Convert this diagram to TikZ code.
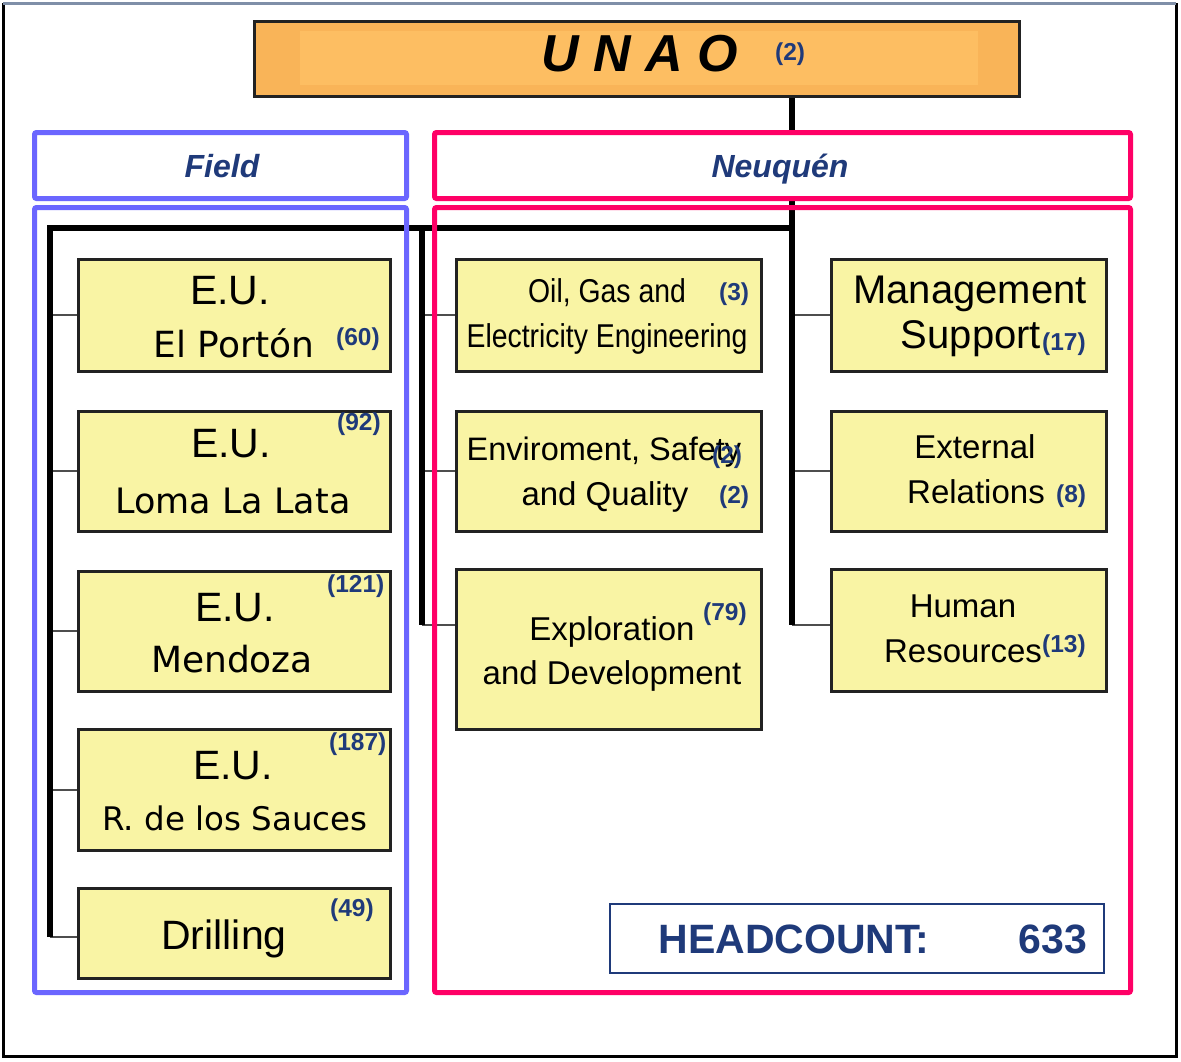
\documentclass[tikz,border=0pt]{standalone}
\usepackage{fontspec}
\setmainfont{Liberation Sans}
\newfontfamily\widefont{DejaVu Sans}
\newfontfamily\narrowfont[FakeStretch=0.86]{Liberation Sans}
\definecolor{numblue}{HTML}{1F3A7A}
\definecolor{boxfill}{HTML}{F9F4A4}
\definecolor{boxline}{HTML}{222222}
\definecolor{fieldblue}{HTML}{6B66FF}
\definecolor{neupink}{HTML}{FF0066}
\definecolor{unaofill}{HTML}{F9B458}
\definecolor{unaoinner}{HTML}{FDBE62}
\definecolor{topgray}{HTML}{7F8FA8}
\newcommand{\fs}[1]{\fontsize{#1}{#1}\selectfont}
\begin{document}
\begin{tikzpicture}[x=1pt,y=-1pt,
  ybox/.style={draw=boxline, line width=2.5pt, fill=boxfill, inner sep=0pt, anchor=north west},
  num/.style={font=\bfseries\fs{24.5}, text=numblue, inner sep=0pt, anchor=west},
  txt/.style={inner sep=0pt, anchor=base, text=black},
  trunk/.style={line width=6.5pt, black},
  conn/.style={line width=2pt, draw=boxline!80},
  bframe/.style={draw=fieldblue, line width=5pt, rounded corners=2pt, inner sep=0pt, anchor=north west},
  pframe/.style={draw=neupink, line width=5pt, rounded corners=2pt, inner sep=0pt, anchor=north west},
  head/.style={txt, font=\bfseries\itshape\fs{32}, text=numblue}
]
\useasboundingbox (0,0) rectangle (1181,1061);
\fill[white] (0,0) rectangle (1181,1061);
% outer frame
\draw[line width=3pt, black] (3,3) -- (3,1056) -- (1176,1056) -- (1176,3);
\draw[line width=3pt, topgray] (3,3) -- (1176,3);

% UNAO
\node[draw=boxline, line width=3pt, fill=unaofill, minimum width=765pt, minimum height=75pt, inner sep=0pt, anchor=north west] (unao) at (253,20) {};
\fill[unaoinner] (300,31) rectangle (978,85);
\node[txt, font=\bfseries\itshape\fs{52}] (unaot) at (640,71) {U N A O};
\node[num] (unaon) at (775,54) {(2)};

% boxes left
\node[ybox, minimum width=312pt, minimum height=112pt] (b1) at (77,258) {};
\node[ybox, minimum width=312pt, minimum height=120pt] (b2) at (77,410) {};
\node[ybox, minimum width=312pt, minimum height=120pt] (b3) at (77,570) {};
\node[ybox, minimum width=312pt, minimum height=121pt] (b4) at (77,728) {};
\node[ybox, minimum width=312pt, minimum height=90pt] (b5) at (77,887) {};
% boxes middle
\node[ybox, minimum width=305pt, minimum height=112pt] (b6) at (455,258) {};
\node[ybox, minimum width=305pt, minimum height=120pt] (b7) at (455,410) {};
\node[ybox, minimum width=305pt, minimum height=160pt] (b8) at (455,568) {};
% boxes right
\node[ybox, minimum width=275pt, minimum height=112pt] (b9) at (830,258) {};
\node[ybox, minimum width=275pt, minimum height=120pt] (b10) at (830,410) {};
\node[ybox, minimum width=275pt, minimum height=122pt] (b11) at (830,568) {};

% trunk coordinates
\coordinate (lt) at (50,228);
\coordinate (lb) at (50,937);
\coordinate (mt) at (422,228);
\coordinate (mb) at (422,625);
\coordinate (rt) at (792,228);
\coordinate (rb) at (792,625);

% connectors
\draw[conn] (b1.west -| lt) -- (b1.west);
\draw[conn] (b2.west -| lt) -- (b2.west);
\draw[conn] (b3.west -| lt) -- (b3.west);
\draw[conn] (b4.west -| lt) -- (b4.west);
\draw[conn] (lb) -- (lb -| b5.west);
\draw[conn] (b6.west -| mt) -- (b6.west);
\draw[conn] (b7.west -| mt) -- (b7.west);
\draw[conn] (mb) -- (mb -| b8.west);
\draw[conn] (b9.west -| rt) -- (b9.west);
\draw[conn] (b10.west -| rt) -- (b10.west);
\draw[conn] (rb) -- (rb -| b11.west);

% trunks
\draw[trunk] (lb) -- (lt) -- (rt);
\draw[trunk] (unao.south -| rt) -- (rb);
\draw[trunk] (mt) -- (mb);

% frames
\node[bframe, fill=white, minimum width=372pt, minimum height=66pt] (fieldh) at (32,130) {};
\node[bframe, minimum width=372pt, minimum height=785pt] (fieldb) at (32,205) {};
\node[pframe, fill=white, minimum width=696pt, minimum height=66pt] (neuh) at (432,130) {};
\node[pframe, minimum width=696pt, minimum height=785pt] (neub) at (432,205) {};
\node[head] (fieldt) at (222,177) {Field};
\node[head] (neut) at (780,177) {Neuquén};

% left texts
\node[txt, font=\fs{41}] (t1a) at (230,304) {E.U.};
\node[txt, font=\widefont\fs{36}] (t1b) at (234,357) {El Portón};
\node[num] (n1) at (336,339) {(60)};
\node[txt, font=\fs{41}] (t2a) at (231,457) {E.U.};
\node[txt, font=\widefont\fs{35}] (t2b) at (233,513) {Loma La Lata};
\node[num] (n2) at (337,424) {(92)};
\node[txt, font=\fs{41}] (t3a) at (235,621) {E.U.};
\node[txt, font=\widefont\fs{36}] (t3b) at (232,672) {Mendoza};
\node[num] (n3) at (327,586) {(121)};
\node[txt, font=\fs{41}] (t4a) at (233,779) {E.U.};
\node[txt, font=\widefont\fs{32.5}] (t4b) at (235,830) {R. de los Sauces};
\node[num] (n4) at (329,744) {(187)};
\node[txt, font=\fs{41}] (t5a) at (224,949) {Drilling};
\node[num] (n5) at (330,910) {(49)};

% middle texts
\node[txt, font=\narrowfont\fs{33}] (t6a) at (607,302) {Oil, Gas and};
\node[txt, font=\narrowfont\fs{33}] (t6b) at (607,347) {Electricity Engineering};
\node[num] (n6) at (719,294) {(3)};
\node[txt, font=\fs{32.5}] (t7a) at (604,460) {Enviroment, Safety};
\node[txt, font=\fs{33}] (t7b) at (605,505) {and Quality};
\node[num] (n7a) at (712,457) {(2)};
\node[num] (n7b) at (719,497) {(2)};
\node[txt, font=\fs{33}] (t8a) at (612,640) {Exploration};
\node[txt, font=\fs{33}] (t8b) at (612,684) {and Development};
\node[num] (n8) at (703,614) {(79)};

% right texts
\node[txt, font=\fs{40}] (t9a) at (970,303) {Management};
\node[txt, font=\fs{40}] (t9b) at (971,348) {Support};
\node[num] (n9) at (1042,344) {(17)};
\node[txt, font=\fs{33}] (t10a) at (975,458) {External};
\node[txt, font=\fs{33}] (t10b) at (976,503) {Relations};
\node[num] (n10) at (1056,496) {(8)};
\node[txt, font=\fs{33}] (t11a) at (963,617) {Human};
\node[txt, font=\fs{33}] (t11b) at (963,662) {Resources};
\node[num] (n11) at (1042,646) {(13)};

% headcount
\node[draw=numblue, line width=1.5pt, fill=white, minimum width=494pt, minimum height=69pt, inner sep=0pt, anchor=north west] (hc) at (609,903) {};
\node[txt, font=\bfseries\fs{41}, text=numblue] (hct) at (794,953) {HEADCOUNT:};
\node[txt, font=\bfseries\fs{41}, text=numblue] (hcn) at (1053,953) {633};
\end{tikzpicture}
\end{document}
